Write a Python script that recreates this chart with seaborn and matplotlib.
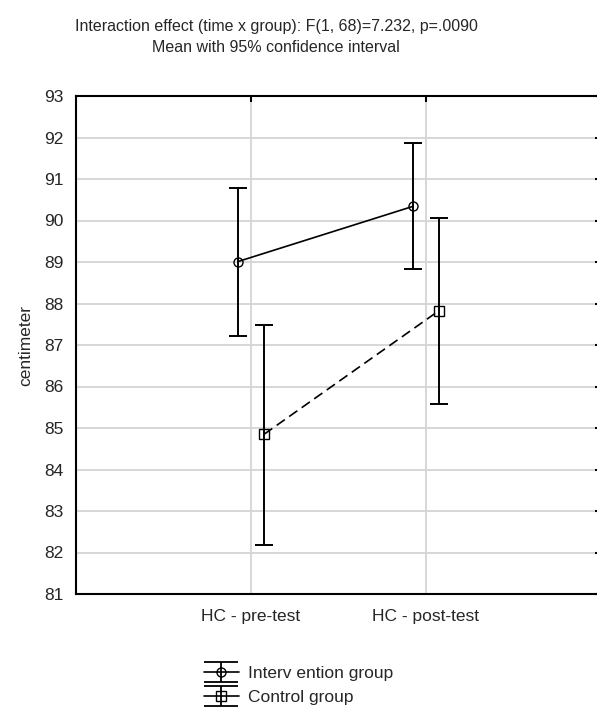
import numpy as np
import pandas as pd
import matplotlib
matplotlib.use("Agg")
import matplotlib.pyplot as plt
from matplotlib.path import Path
from matplotlib.lines import Line2D
from matplotlib.legend_handler import HandlerTuple
import seaborn as sns

# ---- data ----
times = ["HC - pre-test", "HC - post-test"]
groups = ["Intervention group", "Control group"]
legend_labels = ["Interv ention group", "Control group"]
intervention_mean = [89.01, 90.34]
intervention_lo = [87.21, 88.83]
intervention_hi = [90.78, 91.87]
control_mean = [84.85, 87.83]
control_lo = [82.19, 85.58]
control_hi = [87.48, 90.06]
y_ticks = list(range(81, 94))
title_line1 = "Interaction effect (time x group): F(1, 68)=7.232, p=.0090"
title_line2 = "Mean with 95% confidence interval"
y_label = "centimeter"

df = pd.DataFrame({
    "time": times * 2,
    "group": [groups[0]] * 2 + [groups[1]] * 2,
    "mean": intervention_mean + control_mean,
    "lo": intervention_lo + control_lo,
    "hi": intervention_hi + control_hi,
})

sns.set_style("white")
plt.rcParams["font.family"] = ["Liberation Sans", "DejaVu Sans"]

W, H = 597, 707
fig = plt.figure(figsize=(W / 100, H / 100), dpi=100)
ax = fig.add_axes([76 / W, 1 - 594 / H, (601 - 76) / W, (594 - 96) / H])

sns.pointplot(data=df, x="time", y="mean", hue="group", order=times,
              hue_order=groups, dodge=0.15, errorbar=None,
              markers=["o", "s"], linestyles=["-", "--"], color="black",
              palette=["black", "black"], markersize=6.5, linewidth=1.2,
              markerfacecolor="none", markeredgewidth=1.0, ax=ax, legend=False,
              zorder=4)

# error bars at the positions seaborn placed the points
data_lines = [l for l in ax.lines if len(l.get_xdata()) == 2]
for line, g in zip(data_lines, groups):
    sub = df[df["group"] == g].set_index("time").loc[times]
    xs = np.asarray(line.get_xdata(), dtype=float)
    yerr = [sub["mean"] - sub["lo"], sub["hi"] - sub["mean"]]
    ax.errorbar(xs, sub["mean"], yerr=yerr, fmt="none", ecolor="black",
                elinewidth=1.4, capsize=6.8, capthick=1.4, zorder=3)
    line.set_markerfacecolor("none")
    if g == groups[1]:
        line.set_dashes((6, 3.2))

ax.set_xlim(-1, 2)
ax.set_ylim(81, 93)
ax.set_yticks(y_ticks)
ax.set_xlabel("")
ax.set_ylabel(y_label, fontsize=12.5, labelpad=8)
ax.grid(True, color="#d4d4d4", linewidth=1.3, zorder=0)
ax.set_axisbelow(True)
for s in ax.spines.values():
    s.set_color("black")
    s.set_linewidth(1.5)
    s.set_visible(True)
ax.tick_params(axis="both", direction="in", length=4, width=1.5, color="black",
               labelsize=12.5, top=True, right=True)
ax.tick_params(axis="y", pad=9)
ax.tick_params(axis="x", pad=11)

fig.text(276 / W, 1 - 26 / H, title_line1, ha="center", va="center", fontsize=11.5)
fig.text(276 / W, 1 - 48 / H, title_line2, ha="center", va="center", fontsize=11.5)

# legend handles: line + marker combined with an I-beam (error bar) marker
ibeam = Path([(-1, 0.55), (1, 0.55), (0, 0.55), (0, -0.55), (-1, -0.55), (1, -0.55)],
             [Path.MOVETO, Path.LINETO, Path.MOVETO, Path.LINETO, Path.MOVETO, Path.LINETO])
handles = []
for mk in ["o", "s"]:
    h1 = Line2D([], [], color="black", lw=1.2, marker=mk, markersize=6.5,
                markerfacecolor="none", markeredgewidth=1.0)
    h2 = Line2D([], [], color="black", lw=0, marker=ibeam, markersize=25,
                markeredgewidth=1.3, markerfacecolor="none")
    handles.append((h1, h2))
fig.legend(handles, legend_labels,
           handler_map={tuple: HandlerTuple(ndivide=1, pad=0)},
           loc="upper left", bbox_to_anchor=(204 / W, 1 - 666 / H), frameon=False,
           fontsize=12.5, handlelength=2.0, handletextpad=0.55, labelspacing=0.5,
           borderpad=0, borderaxespad=0)

fig.savefig("out.png", dpi=100)
